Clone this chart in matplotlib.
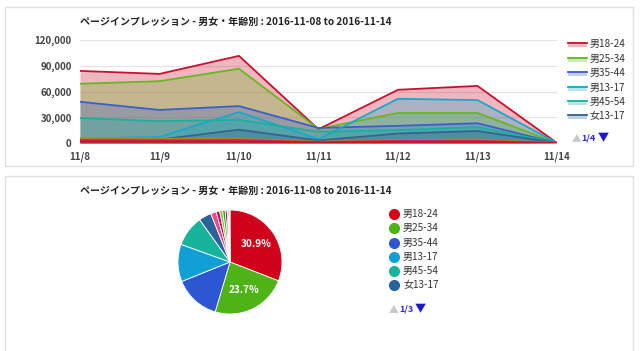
import matplotlib
matplotlib.use("Agg")
import matplotlib.pyplot as plt
from matplotlib.patches import Rectangle
from matplotlib.ticker import FuncFormatter
from matplotlib.lines import Line2D
import math

plt.rcParams['font.family'] = ['Noto Sans CJK JP', 'DejaVu Sans']

title = "ページインプレッション - 男女・年齢別 : 2016-11-08 to 2016-11-14"
days = ["11/8", "11/9", "11/10", "11/11", "11/12", "11/13", "11/14"]

# area chart series (page impressions per day)
m18_24 = [84000, 80500, 101500, 16000, 62000, 66500, 0]
m25_34 = [69000, 72000, 86500, 16500, 35000, 35000, 0]
m35_44 = [48000, 38500, 43000, 17500, 20000, 23000, 0]
m13_17 = [5000, 7000, 36000, 4500, 51500, 50000, 0]
m45_54 = [29000, 25500, 27000, 13000, 15000, 18500, 0]
f13_17 = [4000, 4000, 15500, 3000, 11000, 14000, 0]
f18_24 = [5500, 5000, 5000, 1500, 3500, 4000, 0]
f25_34 = [3000, 3000, 3500, 1000, 2500, 2500, 0]
m55_64 = [1500, 1500, 1500, 500, 1000, 1000, 0]

series_names = ["男18-24", "男25-34", "男35-44", "男13-17", "男45-54", "女13-17",
                "女18-24", "女25-34", "男55-64"]
series_vals = [m18_24, m25_34, m35_44, m13_17, m45_54, f13_17, f18_24, f25_34, m55_64]
line_colors = ["#c8102e", "#66b81e", "#3a5fcd", "#17a8cc", "#14b3a0", "#35638f",
               "#b8860b", "#d81b60", "#cc1122"]

# pie chart shares (%)
pie_names = ["男18-24", "男25-34", "男35-44", "男13-17", "男45-54", "女13-17",
             "女18-24", "女25-34", "男55-64", "女35-44", "男65+", "女45-54",
             "女55-64", "不明"]
pie_vals = [30.9, 23.7, 14.3, 11.6, 9.6, 3.9, 1.7, 1.1, 0.9, 0.8, 0.6, 0.3, 0.4, 0.2]
pie_colors = ["#d0021b", "#4db317", "#2d56d3", "#129fd6", "#17b39b", "#2a6399",
              "#e84a8a", "#d8006c", "#7fcf1f", "#3b9e3b", "#8b0a0a", "#cc1111",
              "#9a4fc0", "#e27ee8"]

W, H = 640, 351
fig = plt.figure(figsize=(6.4, 3.51), dpi=100)
fig.patch.set_facecolor("white")


def fx(px):
    return px / W


def fy(py):
    return 1 - py / H


# cards
for (x0, y0, x1, y1) in [(5, 7, 633, 166), (5, 176, 633, 352)]:
    fig.patches.append(Rectangle((fx(x0), fy(y1)), fx(x1 - x0), (y1 - y0) / H,
                                 transform=fig.transFigure, fill=False,
                                 edgecolor="#e0e0e0", lw=1.0))

# ---- area chart ----
ax = fig.add_axes([fx(80), fy(143), fx(557 - 80), (143 - 40) / H])
x = list(range(len(days)))
for name, vals, c in zip(series_names, series_vals, line_colors):
    ax.fill_between(x, 0, vals, color=c, alpha=0.3, lw=0)
    ax.plot(x, vals, color=c, lw=1.3)
ax.set_xlim(0, len(days) - 1)
ax.set_ylim(0, 120000)
ax.set_yticks([0, 30000, 60000, 90000, 120000])
ax.yaxis.set_major_formatter(FuncFormatter(lambda v, p: f"{int(v):,}"))
ax.set_xticks(x)
ax.set_xticklabels(days)
ax.grid(axis="y", color="#e3e3e3", lw=0.8)
ax.set_axisbelow(True)
for s in ax.spines.values():
    s.set_visible(False)
ax.axhline(0, color="#bbbbbb", lw=0.8, zorder=0)
ax.tick_params(length=0, labelsize=7, labelcolor="#444444", pad=6)
for t in ax.get_xticklabels() + ax.get_yticklabels():
    t.set_fontweight("bold")
fig.text(fx(80), fy(22), title, fontsize=7.2, fontweight="bold", va="center", color="#222222")

# legend (top)
leg_y = [44, 59, 73, 88, 102, 116]
for i in range(6):
    y = leg_y[i]
    fig.patches.append(Rectangle((fx(568), fy(y + 3)), fx(19), 5 / H, transform=fig.transFigure,
                                 color=line_colors[i], alpha=0.3, lw=0))
    fig.lines.append(Line2D([fx(568), fx(587)], [fy(y - 1), fy(y - 1)], transform=fig.transFigure,
                            color=line_colors[i], lw=1.3))
    fig.text(fx(590), fy(y), series_names[i], fontsize=7.2, va="center", color="#333333")
fig.text(fx(572), fy(138), "▲", fontsize=7, va="center", color="#c8c8c8")
fig.text(fx(581), fy(138), "1/4", fontsize=6.5, va="center", color="#2a2acc", fontweight="bold")
fig.text(fx(598), fy(138), "▼", fontsize=8, va="center", color="#1a1acc")

# ---- pie chart ----
fig.text(fx(80), fy(191), title, fontsize=7.2, fontweight="bold", va="center", color="#222222")
r = 52
pax = fig.add_axes([fx(230 - r), fy(262 + r), fx(2 * r), 2 * r / H])
wedges, _ = pax.pie(pie_vals, colors=pie_colors, startangle=90, counterclock=False,
                    wedgeprops=dict(edgecolor="white", linewidth=0.6))
pax.set_xlim(-1, 1)
pax.set_ylim(-1, 1)
pax.set_aspect("equal")
start = 90.0
total = sum(pie_vals)
for v in pie_vals:
    ang = start - 360 * v / total / 2
    if v > 20:
        px = 0.6 * math.cos(math.radians(ang))
        py = 0.6 * math.sin(math.radians(ang))
        pax.text(px, py, f"{v:.1f}%", color="white", fontsize=7.2, fontweight="bold",
                 ha="center", va="center")
    start -= 360 * v / total

leg2_y = [214, 228, 243, 257, 271, 285]
for i in range(6):
    y = leg2_y[i]
    fig.lines.append(Line2D([fx(394)], [fy(y)], transform=fig.transFigure, marker="o",
                            markersize=7, color=pie_colors[i], lw=0))
    fig.text(fx(403), fy(y), pie_names[i], fontsize=7.2, va="center", color="#333333")
fig.text(fx(389), fy(309), "▲", fontsize=7, va="center", color="#c8c8c8")
fig.text(fx(399), fy(309), "1/3", fontsize=6.5, va="center", color="#2a2acc", fontweight="bold")
fig.text(fx(415), fy(309), "▼", fontsize=8, va="center", color="#1a1acc")

fig.savefig("out.png", dpi=100)
